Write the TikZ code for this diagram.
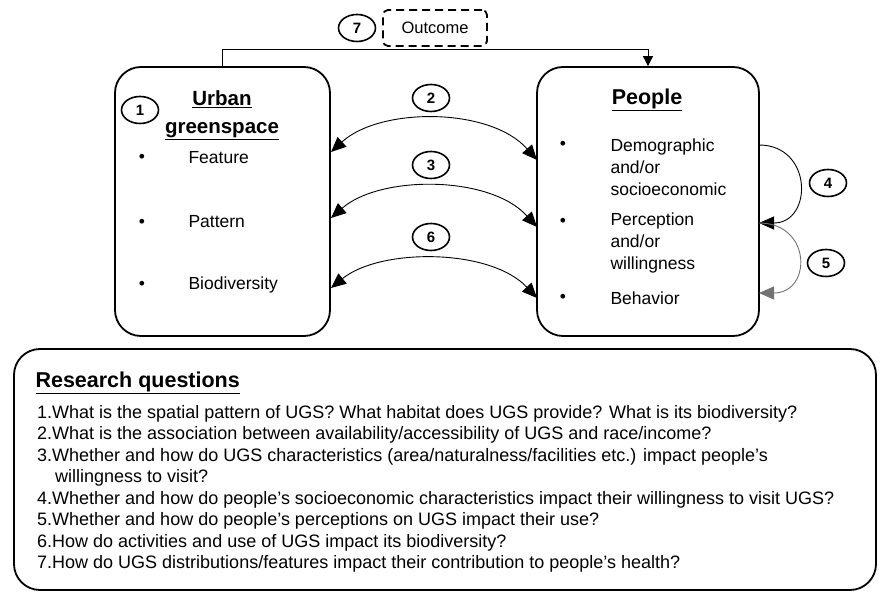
\documentclass[tikz,border=0pt]{standalone}
\usepackage{fontspec}
\setmainfont{Liberation Sans}
\usetikzlibrary{arrows.meta,shapes.geometric,calc}

\begin{document}
\begin{tikzpicture}[x=1pt,y=-1pt,
  bigbox/.style={draw,line width=1.8pt,rounded corners=26pt},
  num/.style={draw,ellipse,line width=1.6pt,minimum width=37pt,minimum height=27pt,inner sep=0pt,font=\fontsize{15}{15}\selectfont\bfseries},
  item/.style={anchor=west,align=left,font=\fontsize{17.5}{22}\selectfont},
  dot/.style={font=\fontsize{17.5}{22}\selectfont},
  title/.style={align=center,font=\fontsize{20.5}{28}\selectfont\bfseries},
  link/.style={line width=0.9pt,{Triangle[length=15pt,width=13pt]}-{Triangle[length=15pt,width=13pt]}},
  loop/.style={line width=0.9pt,-{Triangle[length=15pt,width=13pt]}}]
  \useasboundingbox (0,0) rectangle (884,601);

  % Outcome on top
  \node[draw,line width=1.8pt,dash pattern=on 8pt off 5pt,rounded corners=5pt,minimum width=104pt,minimum height=36pt,font=\fontsize{16.5}{16.5}\selectfont] (outcome) at (435,28) {Outcome};
  \node[num] (n7) at (357,28) {7};

  % Urban greenspace
  \node[bigbox,minimum width=215pt,minimum height=269pt] (ugs) at (222.5,201.5) {};
  \node[title] (ugstitle) at (222,115) {\underline{Urban}\\\underline{greenspace}};
  \node[num] (n1) at (140,110) {1};
  \node[dot] (b1) at (142,158) {\textbullet};
  \node[dot] (b2) at (142,223) {\textbullet};
  \node[dot] (b3) at (142,285) {\textbullet};
  \node[item] (feature) at (185,158) {Feature};
  \node[item] (pattern) at (185,222) {Pattern};
  \node[item] (biodiv) at (185,285) {Biodiversity};

  % People
  \node[bigbox,minimum width=222pt,minimum height=269pt] (ppl) at (648,201.5) {};
  \node[title,font=\fontsize{21.5}{28}\selectfont\bfseries] (ppltitle) at (647,100) {\underline{People}};
  \node[dot] (b4) at (563,145) {\textbullet};
  \node[dot] (b5) at (563,222) {\textbullet};
  \node[dot] (b6) at (563,298) {\textbullet};
  \node[item] (demo) at (607,167) {Demographic\\and/or\\socioeconomic};
  \node[item] (percep) at (607,243) {Perception\\and/or\\willingness};
  \node[item] (behav) at (607,298) {Behavior};

  % Outcome link
  \draw[line width=0.9pt,-{Triangle[length=10pt,width=10pt]}] (ugs.north) -- ++(0,-17) -| (ppl.north);

  % Links between the two boxes
  \coordinate (u2) at (331,152); \coordinate (p2) at (537,160);
  \coordinate (u3) at (331,218); \coordinate (p3) at (537,227);
  \coordinate (u6) at (331,288); \coordinate (p6) at (537,298);
  \draw[link] (u2) .. controls (380,107) and (490,107) .. (p2);
  \draw[link] (u3) .. controls (380,175) and (490,175) .. (p3);
  \draw[link] (u6) .. controls (380,248) and (490,248) .. (p6);
  \node[num] (n2) at (431,98) {2};
  \node[num] (n3) at (431,165) {3};
  \node[num] (n6) at (431,237) {6};

  % Links inside People
  \coordinate (q4) at (759,145); \coordinate (q5) at (759,223); \coordinate (q6) at (759,293);
  \draw[loop] (q4) .. controls (813,145) and (813,223) .. (q5);
  \draw[loop,black!55] (q5) .. controls (812,223) and (812,293) .. (q6);
  \node[num] (n4) at (828,183) {4};
  \node[num] (n5) at (826,263) {5};

  % Research questions
  \node[bigbox,minimum width=862pt,minimum height=241pt] (rq) at (445,469.5) {};
  \node[anchor=west,font=\fontsize{21.5}{21.5}\selectfont\bfseries] (rqtitle) at (32,383) {\underline{Research questions}};
  \node[anchor=north west,align=left,inner sep=0pt,font=\fontsize{18}{21.5}\selectfont] (qs) at (37,405) {%
    1.What is the spatial pattern of UGS? What habitat does UGS provide? What is its biodiversity?\\
    2.What is the association between availability/accessibility of UGS and race/income?\\
    3.Whether and how do UGS characteristics (area/naturalness/facilities etc.) impact people’s\\
    \hspace*{1em}willingness to visit?\\
    4.Whether and how do people’s socioeconomic characteristics impact their willingness to visit UGS?\\
    5.Whether and how do people’s perceptions on UGS impact their use?\\
    6.How do activities and use of UGS impact its biodiversity?\\
    7.How do UGS distributions/features impact their contribution to people’s health?};
\end{tikzpicture}
\end{document}
